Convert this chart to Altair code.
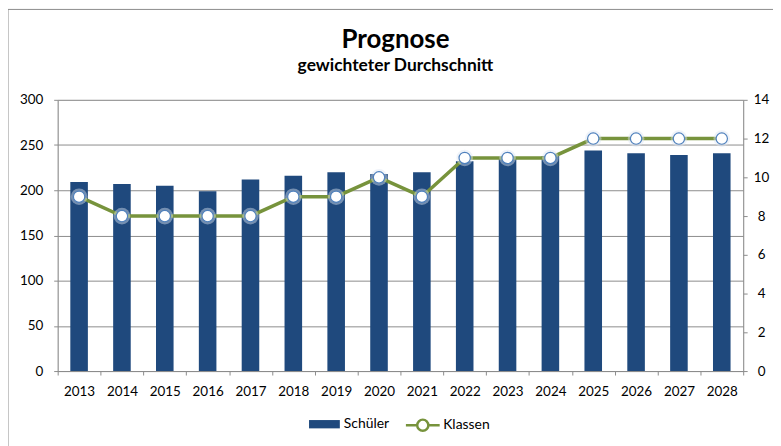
import altair as alt
import pandas as pd

years = [str(y) for y in range(2013, 2029)]
schueler = [209, 207, 205, 199, 212, 216, 220, 218, 220, 232, 236, 238, 244, 241, 239, 241]
klassen = [9, 8, 8, 8, 8, 9, 9, 10, 9, 11, 11, 11, 12, 12, 12, 12]
left_ticks = [0, 50, 100, 150, 200, 250, 300]
right_ticks = [0, 2, 4, 6, 8, 10, 12, 14]

df = pd.DataFrame({
    "Jahr": years,
    "schueler": schueler,
    "klassen": klassen,
    "s1": ["Schüler"] * len(years),
    "s2": ["Klassen"] * len(years),
})

FONT = "Lato"
GRID = "#8c8c8c"
BLUE = "#1F497D"
GREEN = "#77933C"
MARK_BLUE = "#4F81BD"

x_enc = alt.X(
    "Jahr:N", title=None, sort=years,
    scale=alt.Scale(paddingInner=0, paddingOuter=0),
    axis=alt.Axis(labelAngle=0, tickBand="extent", tickSize=4, labelPadding=10,
                  grid=False, domainColor=GRID, tickColor=GRID,
                  labelFontSize=13.5, labelColor="black", labelFont=FONT),
)

bars = alt.Chart(df).mark_bar(width=alt.RelativeBandSize(0.41)).encode(
    x=x_enc,
    y=alt.Y("schueler:Q", title=None,
            scale=alt.Scale(domain=[0, 300], nice=False),
            axis=alt.Axis(orient="left", values=left_ticks, grid=True, gridColor=GRID,
                          domainColor=GRID, tickColor=GRID, tickSize=4, labelPadding=11,
                          labelFontSize=13.5, labelColor="black", labelFont=FONT)),
    color=alt.Color("s1:N", scale=alt.Scale(domain=["Schüler"], range=[BLUE]),
                    legend=alt.Legend(title=None, orient="none", legendX=253, legendY=311,
                                      symbolType="M-1,-0.27H1V0.27H-1Z", symbolSize=961,
                                      symbolStrokeWidth=0, labelOffset=4, padding=0,
                                      labelFontSize=14, labelColor="black", labelFont=FONT)),
)

y_right = alt.Y("klassen:Q", title=None,
                scale=alt.Scale(domain=[0, 14], nice=False),
                axis=alt.Axis(orient="right", values=right_ticks, grid=False,
                              domainColor=GRID, tickColor=GRID, tickSize=4, labelPadding=14,
                              labelAlign="center",
                              labelFontSize=13.5, labelColor="black", labelFont=FONT))

legend_line_path = ("M-1,0H-0.33 M0.33,0H1 "
                    "M-0.33,0A0.33,0.33 0 1,1 0.33,0A0.33,0.33 0 1,1 -0.33,0Z")

line = alt.Chart(df).mark_line(strokeWidth=3.5).encode(
    x=x_enc,
    y=y_right,
    stroke=alt.Stroke("s2:N", scale=alt.Scale(domain=["Klassen"], range=[GREEN]),
                      legend=alt.Legend(title=None, orient="none", legendX=349, legendY=309,
                                        symbolType=legend_line_path, symbolSize=1156,
                                        symbolStrokeWidth=2.5, symbolFillColor="white",
                                        labelOffset=2, padding=0,
                                        labelFontSize=14, labelColor="black", labelFont=FONT)),
)

glow = alt.Chart(df).mark_circle(size=280, color="#dbe5f1", opacity=0.45).encode(
    x=x_enc, y=y_right,
)

points = alt.Chart(df).mark_point(filled=True, fill="white", stroke=MARK_BLUE,
                                  strokeWidth=1.2, size=130, opacity=1).encode(
    x=x_enc,
    y=y_right,
)

frame = alt.Chart(pd.DataFrame({"a": [0]})).mark_rect(
    fill="transparent", stroke="#8c8c8c", strokeWidth=1
).encode(x=alt.value(-50), x2=alt.value(760), y=alt.value(-91), y2=alt.value(400))

right = alt.layer(line, glow, points)

chart = alt.layer(frame, bars, right).resolve_scale(y="independent").properties(
    width=690, height=273,
    autosize=alt.AutoSizeParams(type="none"),
    padding={"left": 50, "top": 91, "right": 30, "bottom": 74},
    title=alt.TitleParams(text="Prognose", subtitle="gewichteter Durchschnitt",
                          font=FONT, fontSize=26, fontWeight="bold", color="black",
                          subtitleFont=FONT, subtitleFontSize=17.5, subtitleFontWeight="bold",
                          subtitleColor="black", subtitlePadding=4, frame="group",
                          anchor="middle", dx=-5, offset=-66),
).configure_view(stroke=None).configure(background="white")

chart.save("out.html", embed_options={"renderer": "svg", "actions": False})
